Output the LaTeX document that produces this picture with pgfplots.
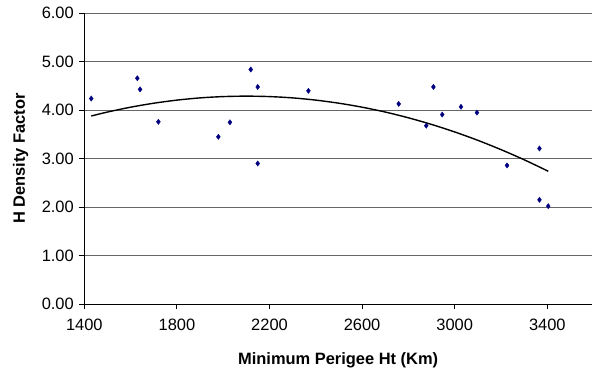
\documentclass[border=0pt]{standalone}
\usepackage{pgfplots}
\pgfplotsset{compat=1.18}
\usepackage{fontspec}
\setmainfont{Liberation Sans}
\begin{document}
\begin{tikzpicture}
\begin{axis}[
  at={(0bp,0bp)}, anchor=south west,
  scale only axis,
  width=507.7bp, height=290.7bp,
  xmin=1400, xmax=3593, ymin=0, ymax=6,
  xtick={1400,1800,2200,2600,3000,3400},
  ytick={0,1,2,3,4,5,6},
  axis x line*=bottom, axis y line*=left,
  axis line style={black, line width=0.9bp, -},
  tick align=outside,
  major tick length=5bp,
  tick style={black, line width=0.9bp},
  ymajorgrids,
  major grid style={black!60, line width=0.9bp},
  /pgf/number format/assume math mode=true,
  /pgf/number format/1000 sep={},
  yticklabel style={/pgf/number format/fixed, /pgf/number format/fixed zerofill, /pgf/number format/precision=2, xshift=-2bp},
  ticklabel style={font=\fontsize{16.5}{20}\selectfont, text=black},
  xticklabel style={yshift=-7bp},
  xlabel={Minimum Perigee Ht (Km)},
  ylabel={H Density Factor},
  every axis x label/.style={at={(axis description cs:0.5,0)}, anchor=center, yshift=-56.7bp, font=\fontsize{16.5}{20}\selectfont\bfseries},
  every axis y label/.style={at={(axis description cs:0,0.5)}, anchor=center, xshift=-63.6bp, rotate=90, font=\fontsize{16.5}{20}\selectfont\bfseries},
  clip=false,
]
\addplot[only marks, mark=diamond*, mark size=2.6bp, color={rgb,255:red,0;green,0;blue,128}] coordinates {
(1430,4.24) (1629,4.66) (1641,4.43) (1720,3.76) (1979,3.45) (2029,3.75)
(2119,4.84) (2149,4.48) (2149,2.90) (2368,4.40) (2758,4.13) (2877,3.68)
(2908,4.48) (2946,3.91) (3027,4.07) (3096,3.95) (3226,2.86) (3366,3.21)
(3366,2.15) (3404,2.02)
};
\addplot[black, line width=1.4bp, smooth, no markers] coordinates {
(1430,3.88) (1500,3.962) (1600,4.062) (1700,4.144) (1800,4.208) (1900,4.254)
(2000,4.281) (2100,4.29) (2200,4.281) (2300,4.254) (2400,4.208) (2500,4.144)
(2600,4.062) (2700,3.962) (2800,3.843) (2900,3.706) (3000,3.551) (3100,3.378)
(3200,3.186) (3300,2.977) (3404,2.74)
};
\end{axis}
\pgfresetboundingbox
\path (-84.3bp,-68bp) rectangle (507.7bp,304bp);
\end{tikzpicture}
\end{document}
